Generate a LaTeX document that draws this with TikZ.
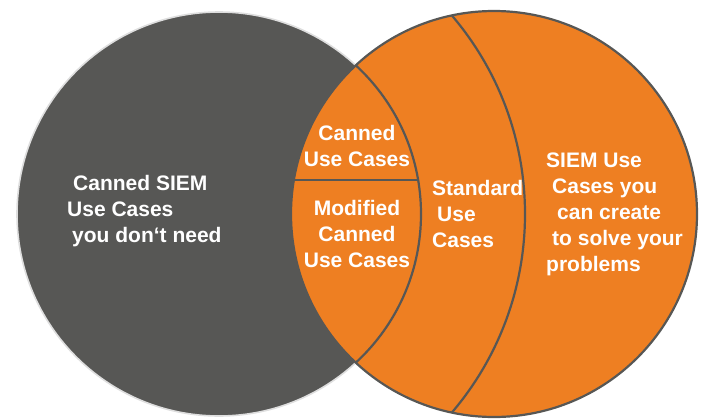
\documentclass[tikz,border=0pt]{standalone}
\usepackage{fontspec}
\setmainfont{Liberation Sans}
\definecolor{siemgray}{RGB}{87,87,85}
\definecolor{siemorange}{RGB}{238,127,34}
\definecolor{rimgray}{RGB}{222,222,222}
\tikzstyle{txt}=[text=white,inner sep=0pt,font=\bfseries\fontsize{21}{26}\selectfont]
\tikzstyle{divider}=[draw=siemgray,line width=2.2pt]

\begin{document}
\begin{tikzpicture}[x=1pt,y=-1pt]
  \useasboundingbox (0,0) rectangle (702,418);
  % the two sets
  \filldraw[fill=siemgray, draw=rimgray, line width=1.6pt] (219,214) circle (202);
  \filldraw[fill=siemorange, draw=siemgray, line width=2.2pt] (494,214) circle (203);
  \begin{scope}
    \clip (494,214) circle (203);
    \draw[divider] (219,214) circle (202);
    \draw[divider] (219,214) circle (306);
    \clip (219,214) circle (202);
    \draw[divider] (280,180) -- (430,180);
  \end{scope}
  % texts
  \node[txt, anchor=west, align=left] (canned) at (67,211)
    {\hspace*{6pt}Canned SIEM\\Use Cases\\\hspace*{5pt}you don‘t need};
  \node[txt, align=center] (cannedlens) at (357,146) {Canned\\Use Cases};
  \node[txt, align=center] (modified) at (357,234) {Modified\\Canned\\Use Cases};
  \node[txt, anchor=west, align=left] (standard) at (432,214)
    {Standard\\\hspace*{5pt}Use\\Cases};
  \node[txt, anchor=west, align=left] (create) at (546,214)
    {SIEM Use\\\hspace*{6pt}Cases you\\\hspace*{11pt}can create\\\hspace*{6pt}to solve your\\problems};
\end{tikzpicture}
\end{document}
